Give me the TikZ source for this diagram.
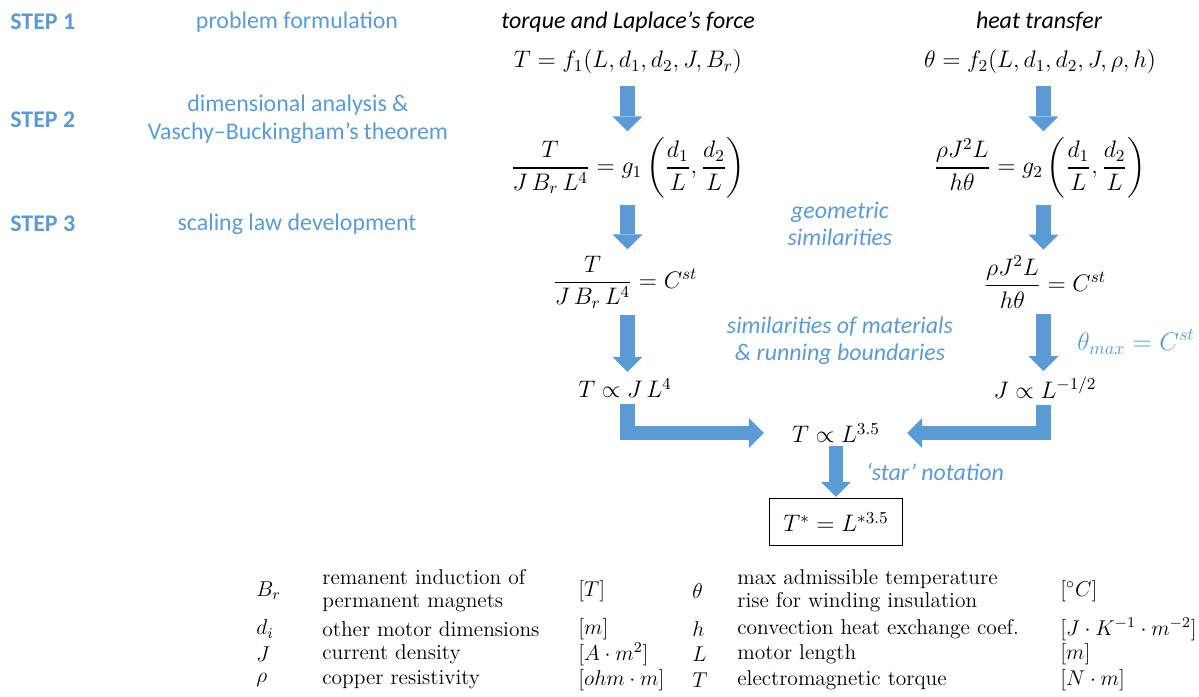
\RequirePackage{fix-cm}
\documentclass[tikz,border=0pt]{standalone}
\usepackage{amsmath}
\usepackage{fontspec}
\newfontfamily\calfont{Carlito}
\usetikzlibrary{arrows.meta}
\definecolor{stepblue}{HTML}{5B9BD5}
\tikzset{
  steplabel/.style={anchor=west, inner sep=0, text=stepblue, font=\calfont\fontsize{13.6}{16}\selectfont\bfseries},
  stepdesc/.style={align=center, inner sep=0, text=stepblue, font=\calfont\fontsize{13.6}{16}\selectfont},
  coltitle/.style={inner sep=0, font=\calfont\fontsize{13.6}{16}\selectfont\itshape},
  eq/.style={inner sep=0, font=\fontsize{13.6}{16}\selectfont},
  note/.style={align=center, inner sep=0, text=stepblue, font=\calfont\fontsize{13.6}{15.6}\selectfont\itshape},
  resultbox/.style={draw, line width=0.7pt, minimum width=2.66cm, minimum height=0.94cm, font=\fontsize{13.6}{16}\selectfont},
  blockarrow/.style={draw=stepblue, line width=0.29cm, -{Triangle[length=0.3cm, width=0.6cm, line width=0pt]}, shorten <=0.12cm, shorten >=0.12cm},
  legsym/.style={anchor=west, inner sep=0, font=\fontsize{12.2}{13.1}\selectfont},
  legtxt/.style={anchor=west, inner sep=0, align=left, font=\fontsize{12.2}{13.1}\selectfont}
}
\begin{document}
\begin{tikzpicture}[x=0.02cm, y=-0.02cm]
\useasboundingbox (0,0) rectangle (1199,696);
\coordinate (colL) at (627.5,0);
\coordinate (colR) at (1043.5,0);

% steps
\node[steplabel] (step1) at (10,22) {STEP 1};
\node[stepdesc] (step1d) at (297,22) {problem formulation};
\node[steplabel] (step2) at (10,120) {STEP 2};
\node[stepdesc] (step2d) at (298,119) {dimensional analysis \&\\Vaschy–Buckingham’s theorem};
\node[steplabel] (step3) at (10,224) {STEP 3};
\node[stepdesc] (step3d) at (297,224) {scaling law development};

% torque column
\node[coltitle] (torque) at (628,22) {torque and Laplace’s force};
\node[eq] (tf) at (628,62) {$T=f_1(L,d_1,d_2,J,B_r)$};
\node[eq] (tg) at (628,168) {$\dfrac{T}{J\,B_r\,L^4}=g_1\left(\dfrac{d_1}{L},\dfrac{d_2}{L}\right)$};
\node[eq] (tc) at (625,282) {$\dfrac{T}{J\,B_r\,L^4}=C^{st}$};
\node[eq] (tp) at (625,388) {$T\propto J\,L^4$};

% heat column
\node[coltitle] (heat) at (1039,22) {heat transfer};
\node[eq] (hf) at (1040,62) {$\theta=f_2(L,d_1,d_2,J,\rho,h)$};
\node[eq] (hg) at (1040,168) {$\dfrac{\rho J^2L}{h\theta}=g_2\left(\dfrac{d_1}{L},\dfrac{d_2}{L}\right)$};
\node[eq] (hc) at (1045,282) {$\dfrac{\rho J^2L}{h\theta}=C^{st}$};
\node[eq] (hp) at (1045,388) {$J\propto L^{-1/2}$};

% hypotheses
\node[note] (geo) at (840,224) {geometric\\similarities};
\node[note] (mat) at (840,341) {similarities of materials\\\& running boundaries};
\node[eq, anchor=west, text=stepblue, font=\fontsize{14.6}{17}\selectfont] (tmax) at (1077,342) {$\theta_{max}=C^{st}$};

% result
\node[eq] (res) at (836,433) {$T\propto L^{3.5}$};
\node[note] (star) at (935,472) {‘star’ notation};
\node[resultbox] (final) at (836,522) {$T^*=L^{*3.5}$};

\draw[blockarrow, shorten <=0.24cm] (tf.south -| colL) -- (tg.north -| colL);
\draw[blockarrow] (tg.south -| colL) -- (tc.north -| colL);
\draw[blockarrow] (tc.south -| colL) -- (tp.north -| colL);
\draw[blockarrow, shorten <=0.24cm] (hf.south -| colR) -- (hg.north -| colR);
\draw[blockarrow] (hg.south -| colR) -- (hc.north -| colR);
\draw[blockarrow] (hc.south -| colR) -- (hp.north -| colR);
\draw[blockarrow, shorten >=0.56cm] (tp.south -| colL) |- (res.west);
\draw[blockarrow, shorten >=0.54cm] (hp.south -| colR) |- (res.east);
\draw[blockarrow, shorten <=0.06cm, shorten >=0.02cm] (res) -- (final);

% legend
\node[legsym] (symBr) at (256,591) {$B_r$};
\node[legtxt] (txtBr) at (322,591) {remanent induction of\\permanent magnets};
\node[legtxt] (unitBr) at (578,591) {$[T]$};
\node[legsym] (symd) at (256,629) {$d_i$};
\node[legtxt] (txtd) at (322,629) {other motor dimensions};
\node[legtxt] (unitd) at (578,629) {$[m]$};
\node[legsym] (symJ) at (256,654) {$J$};
\node[legtxt] (txtJ) at (322,654) {current density};
\node[legtxt] (unitJ) at (578,654) {$[A\cdot m^2]$};
\node[legsym] (symrho) at (256,680) {$\rho$};
\node[legtxt] (txtrho) at (322,680) {copper resistivity};
\node[legtxt] (unitrho) at (578,680) {$[ohm\cdot m]$};

\node[legsym] (symtheta) at (692,591) {$\theta$};
\node[legtxt] (txttheta) at (737,591) {max admissible temperature\\rise for winding insulation};
\node[legtxt] (unittheta) at (1060,591) {$[^\circ C]$};
\node[legsym] (symh) at (692,629) {$h$};
\node[legtxt] (txth) at (737,629) {convection heat exchange coef.};
\node[legtxt] (unith) at (1060,629) {$[J\cdot K^{-1}\cdot m^{-2}]$};
\node[legsym] (symL) at (692,654) {$L$};
\node[legtxt] (txtL) at (737,654) {motor length};
\node[legtxt] (unitL) at (1060,654) {$[m]$};
\node[legsym] (symT) at (692,680) {$T$};
\node[legtxt] (txtT) at (737,680) {electromagnetic torque};
\node[legtxt] (unitT) at (1060,680) {$[N\cdot m]$};
\end{tikzpicture}
\end{document}
